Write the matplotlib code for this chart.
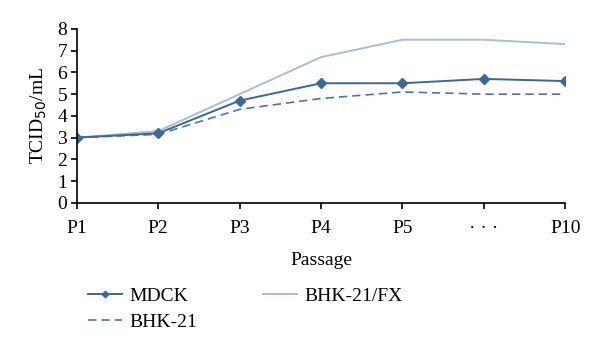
import numpy as np
import matplotlib
matplotlib.use("Agg")
from matplotlib import pyplot as plt

plt.rcParams["font.family"] = ["Liberation Serif", "DejaVu Serif"]

passages = ["P1", "P2", "P3", "P4", "P5", "\u00b7 \u00b7 \u00b7", "P10"]
mdck = [3.0, 3.2, 4.7, 5.5, 5.5, 5.7, 5.6]
bhk21 = [3.0, 3.15, 4.3, 4.8, 5.1, 5.0, 5.0]
bhk21_fx = [3.0, 3.3, 5.0, 6.7, 7.5, 7.5, 7.3]

x = np.arange(len(passages))

fig = plt.figure(figsize=(6.0, 3.48), dpi=100)
ax = fig.add_axes([0.128, 0.417, 0.814, 0.5])

ax.plot(x, bhk21_fx, "-", color="#a9bdd7", lw=1.4, label="BHK-21/FX")
ax.plot(x, bhk21, "--", color="#4a75aa", lw=1.2, dashes=(5, 3), label="BHK-21")
ax.plot(x, mdck, "-", color="#3d6699", lw=1.4, marker="D", ms=5.5, label="MDCK")

ax.set_xlim(0, len(passages) - 1)
ax.set_ylim(0, 8)
ax.set_xticks(x)
ax.set_xticklabels(passages)
ax.set_yticks(range(0, 9))
for s in ["top", "right"]:
    ax.spines[s].set_visible(False)
ax.spines["left"].set_linewidth(1.2)
ax.spines["bottom"].set_linewidth(1.2)
ax.tick_params(axis="both", direction="out", length=4, width=1.2, labelsize=14, pad=3)
ax.tick_params(axis="x", pad=8)
ax.set_xlabel("Passage", fontsize=14, labelpad=11)
ax.set_ylabel("TCID$_{50}$/mL", fontsize=14, labelpad=6)

h, l = ax.get_legend_handles_labels()
order = [2, 1, 0]
leg = fig.legend([h[i] for i in order], [l[i] for i in order], loc="upper left",
                 bbox_to_anchor=(0.117, 0.225), ncol=2, frameon=False, fontsize=14,
                 handlelength=1.75, handletextpad=0.4, columnspacing=3.35,
                 labelspacing=0.45, markerscale=0.6)

plt.savefig("out.png", dpi=100)
